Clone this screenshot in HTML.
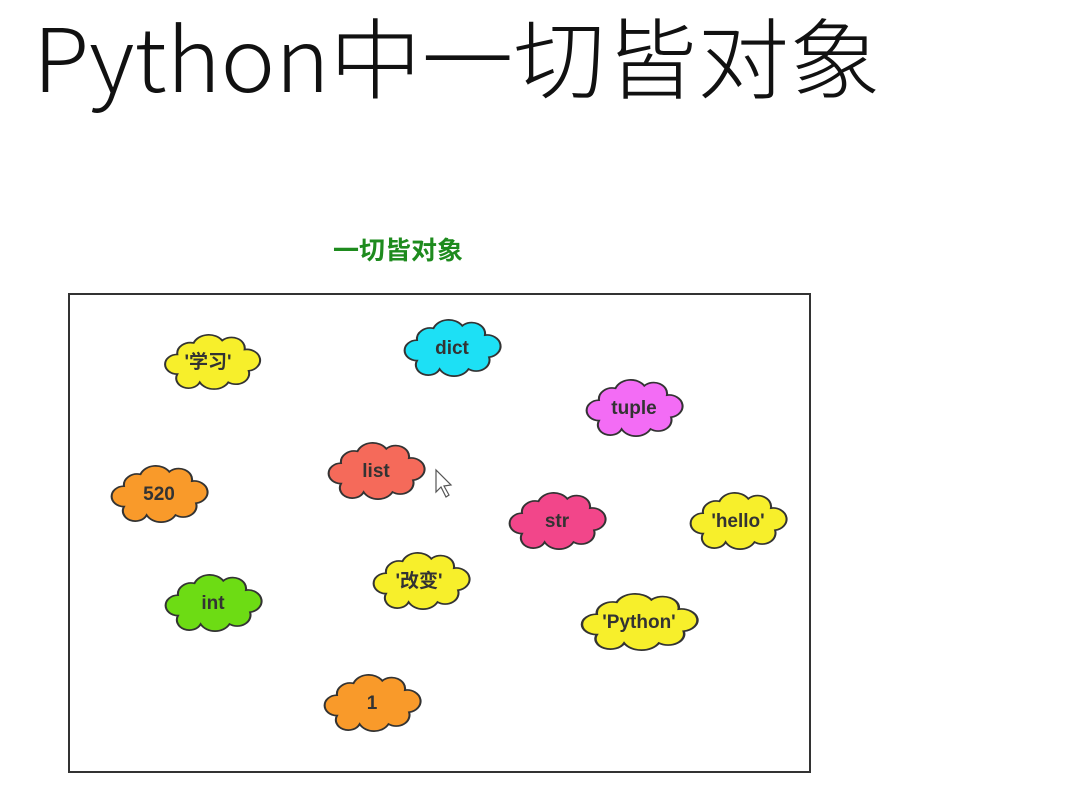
<!DOCTYPE html>
<html><head><meta charset="utf-8"><style>
html,body{margin:0;padding:0;background:#fff;width:1077px;height:799px;overflow:hidden}
</style></head><body>
<svg width="1077" height="799" viewBox="0 0 1077 799" xmlns="http://www.w3.org/2000/svg">
<defs>
<path id="c" d="M-34,-8 A13,13 0 0,1 -18,-22 A16,16 0 0,1 10,-25 A13,13 0 0,1 32,-14 A11,11 0 0,1 36,12 A13,13 0 0,1 16,26 A16,16 0 0,1 -12,26 A12,12 0 0,1 -34,16 A11,11 0 0,1 -34,-8 Z"/>
</defs>
<text x="33" y="92" font-family="'Noto Sans CJK SC','Liberation Sans',sans-serif" font-size="88" font-weight="300" fill="#111" textLength="848" lengthAdjust="spacingAndGlyphs">Python中一切皆对象</text>
<text x="333" y="259" font-family="'Liberation Sans','Noto Sans CJK SC',sans-serif" font-size="25" font-weight="bold" fill="#1e8b1e" textLength="130" lengthAdjust="spacingAndGlyphs">一切皆对象</text>
<rect x="69" y="294" width="741" height="478" fill="#fff" stroke="#333" stroke-width="2"/>
<g stroke="#333" stroke-width="2" font-family="'Liberation Sans','Noto Sans CJK SC',sans-serif" font-weight="bold" font-size="19" text-anchor="middle">
<g transform="translate(212,361) scale(1.02,0.82)"><use href="#c" fill="#f7ef2b"/></g>
<text x="208" y="368" stroke="none" fill="#333">'学习'</text>
<g transform="translate(452,347) scale(1.03,0.85)"><use href="#c" fill="#1de0f5"/></g>
<text x="452" y="354" stroke="none" fill="#333">dict</text>
<g transform="translate(634,407) scale(1.03,0.85)"><use href="#c" fill="#f36cf5"/></g>
<text x="634" y="414" stroke="none" fill="#333">tuple</text>
<g transform="translate(376,470) scale(1.03,0.85)"><use href="#c" fill="#f56a5a"/></g>
<text x="376" y="477" stroke="none" fill="#333">list</text>
<g transform="translate(159,493) scale(1.03,0.85)"><use href="#c" fill="#f99a2a"/></g>
<text x="159" y="500" stroke="none" fill="#333">520</text>
<g transform="translate(557,520) scale(1.03,0.85)"><use href="#c" fill="#f2468a"/></g>
<text x="557" y="527" stroke="none" fill="#333">str</text>
<g transform="translate(738,520) scale(1.03,0.85)"><use href="#c" fill="#f7ef2b"/></g>
<text x="738" y="527" stroke="none" fill="#333">'hello'</text>
<g transform="translate(213,602) scale(1.03,0.85)"><use href="#c" fill="#6ddc14"/></g>
<text x="213" y="609" stroke="none" fill="#333">int</text>
<g transform="translate(421,580) scale(1.03,0.85)"><use href="#c" fill="#f7ef2b"/></g>
<text x="419" y="587" stroke="none" fill="#333">'改变'</text>
<g transform="translate(639,621) scale(1.24,0.85)"><use href="#c" fill="#f7ef2b"/></g>
<text x="639" y="628" stroke="none" fill="#333">'Python'</text>
<g transform="translate(372,702) scale(1.03,0.85)"><use href="#c" fill="#f99a2a"/></g>
<text x="372" y="709" stroke="none" fill="#333">1</text>
</g>
<path d="M436,470 L436,492 L441,487 L446,497 L449,495 L444,486 L451,485 Z" fill="#fff" stroke="#555" stroke-width="1.2"/>
</svg>
</body></html>
